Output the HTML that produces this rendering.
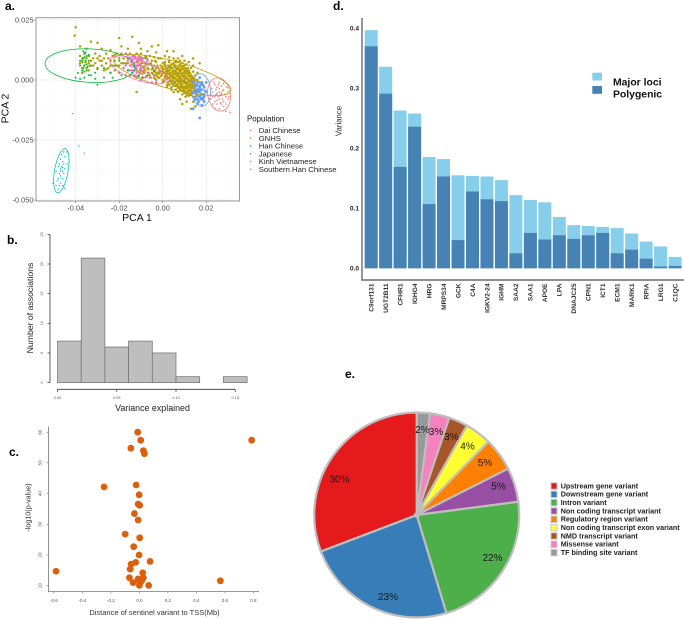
<!DOCTYPE html>
<html lang="en">
<head>
<meta charset="utf-8">
<title>Multi-panel genetics figure</title>
<style>
html,body{margin:0;padding:0;background:#fff;width:684px;height:620px;overflow:hidden}
svg{display:block;font-family:"Liberation Sans",sans-serif;filter:blur(0.3px)}
</style>
</head>
<body>
<svg id="figure" width="684" height="620" viewBox="0 0 684 620" xmlns="http://www.w3.org/2000/svg">
  <rect width="684" height="620" fill="#fff"/>
  <g id="panel-a"></g>
  <g id="panel-b"></g>
  <g id="panel-c"></g>
  <g id="panel-d"></g>
  <g id="panel-e"></g>

  <text x="5" y="10" font-size="12" font-weight="bold">a.</text>
  <text x="7" y="244" font-size="12" font-weight="bold">b.</text>
  <text x="9" y="456" font-size="12" font-weight="bold">c.</text>
  <text x="333" y="10" font-size="12" font-weight="bold">d.</text>
  <text x="345" y="378" font-size="12" font-weight="bold">e.</text>

  <g font-size="10" fill="#1a1a1a" text-anchor="middle">
    <text x="339.5" y="482.5">30%</text>
    <text x="388" y="600">23%</text>
    <text x="492.5" y="561">22%</text>
    <text x="498.5" y="489.5">5%</text>
    <text x="485" y="466">5%</text>
    <text x="467.5" y="449.5">4%</text>
    <text x="451.5" y="440">3%</text>
    <text x="436" y="435">3%</text>
    <text x="422.5" y="433">2%</text>
  </g>
</svg>
<script>
const NS = 'http://www.w3.org/2000/svg';
function el(tag, attrs, parent, txt) {
  const e = document.createElementNS(NS, tag);
  for (const k in attrs) e.setAttribute(k, attrs[k]);
  if (txt !== undefined) e.textContent = txt;
  parent.appendChild(e);
  return e;
}

/* ---------- Panel a data (PC values x 1e-3) ---------- */
const pcaXTicks = [-0.04, -0.02, 0, 0.02];
const pcaYTicks = [0.025, 0, -0.025, -0.05];
const pcaXTickLabels = ['-0.04', '-0.02', '0.00', '0.02'];
const pcaYTickLabels = ['0.025', '0.000', '-0.025', '-0.050'];
const populations = ['Dai Chinese', 'GNHS', 'Han Chinese', 'Japanese', 'Kinh Vietnamese', 'Southern Han Chinese'];
const daiPoints = [[26,-5],[25,-3],[27,-6],[24,-7],[28,-4],[26,-8],[23,-5],[29,-7],[25,-10],[27,-10],[24,-2],[26,-1],[28,-1.5],[30,-5],[30,-8],[22,-8],[23,-10],[25,-5.5],[26.5,-6.5],[27.5,-4.5],[26,-3.5],[24.5,-4],[29,-10],[28,-11],[26,-12],[24,-12],[22,-6],[23.5,-1],[27,-2.5],[25.5,-7],[31,-13.5],[29,-13],[26,-5],[27,-5.5],[28.5,-6],[24,-9],[25,-8.5],[27.5,-8],[29.5,-3],[22.5,-3.5],[26.5,-9.5],[28,-9],[23,-7],[30.5,-7],[25.5,-2],[24.5,-6]];
const gnhsPoints = [[-40,22],[-40.5,18.5],[-20,17.5],[-14,18],[-11,15.5],[-5,14],[-2,14.5],[-33,16],[-30,15.5],[-38,14],[-28,13],[-24,12.5],[-19,14],[-16,13],[-10,13],[-7,12],[-3,11.5],[2,12],[5,12],[9,10],[14,9],[17,7],[-12,-5],[-35,13],
[-38,10],[-37,8],[-36,11],[-35,9],[-34,7],[-36,6],[-37,5],[-35,5],[-34,10],[-33,8],[-38,7],[-36.5,9],[-35.5,7.5],[-34,4],[-37,3],[-33,6],[-32,9],[-31,7],[-31,11],[-30,5],[-29,8],[-29,10],[-28,6],[-27,9],[-27,4],[-26,7],[-26,11],[-25,5],[-25,9],[-24,8],[-24,3],[-23,10],[-23,6],[-22,8],[-22,4],[-21,11],[-21,6],[-20,9],[-20,3],[-19,7],[-19,11],[-18,5],[-18,9],[-17,2],[-17,7],[-17,11],[-16,4],[-16,9],[-15,6],[-15,11],[-15,2],[-14,8],[-14,4],[-13,10],[-13,6],[-13,1.5],[-12,8],[-12,4],[-12,11],[-11,6],[-11,2],[-11,9],[-10,4],[-10,7],[-10,11],[-9.5,1],[-9,5.5],[-9,9],[-8.5,3],[-8,7],[-8,10],[-7.5,1.5],[-7,5],[-7,8.5],[-6.5,3],[-6,6.5],[-6,10],[-5.5,1],[-5,4.5],[-5,8],[-4.5,2.5],[-4,6],[-4,9.5],[-3.5,0.5],[-3.5,4],[-3,7.5],[-2.5,1.5],[-2,9],[-1,9],[1,10],[3,9.5],[5,9],[7,9],[10,8],[12,7.5],[14,6],[16,3],[15,-7],[14,-9],[15,-11],[13,-12],[11,-9],[8,-8],[5,-5],[2,-3],[0,-1],[-3,-1],[9,-10],[17,-1],[6,8],[8,8],
[-12.5,5],[-11.5,7.5],[-10.5,3],[-9.5,8],[-8.5,5],[-7.5,9.5],[-6.5,4.5],[-5.5,7],[-4.5,5],[-3.5,8],[-2.5,6],[-9,3.5],[-8,4],[-7,6.5],[-6,2],[-5,3],[-4,4],[-3,3],[-2,1],[-10,9.5],[-12,1],[-14,6.5],[-16,7],[-18,7],[-20,6],[-22,10.5],[-24,6],[-26,4.5],[-28,8],[-30,9],[-32,6],
[0,7],[3,7.5],[5,7],[7,7.5],[9,7],[-1,6],[1,6.5],[2.5,6],[4,6.5],[6,6],[8,6.5],[10,6],[-2,5],[0,5.5],[1.5,5],[3,5.5],[4.5,5],[5.5,5.5],[7,5],[8.5,5.5],[10,5],[11.5,5],[-1.5,4],[0.5,4.5],[2,4],[3.5,4.5],[5,4],[6.5,4.5],[7.5,4],[9,4.5],[10.5,4],[12,4],[-2.5,3],[-1,3.5],[1,3],[2.5,3.5],[4,3],[5.5,3.5],[6.5,3],[8,3.5],[9.5,3],[11,3.5],[12.5,3],[-3,2],[-0.5,2.5],[1.5,2],[3,2.5],[4.5,2],[6,2.5],[7,2],[8.5,2.5],[10,2],[11.5,2.5],[13,2],[-1.5,1],[1,1.5],[2.5,1],[4,1.5],[5.5,1],[7,1.5],[8,1],[9.5,1.5],[11,1],[12.5,1.5],[14,1],[0,0],[2,0.5],[3.5,0],[5,0.5],[6.5,0],[7.5,0.5],[9,0],[10.5,0.5],[12,0],[13.5,0.5],[15,0],[2.5,-1],[4,-0.5],[5.5,-1],[7,-0.5],[8.5,-1],[9.5,-0.5],[11,-1],[12.5,-0.5],[14,-1],[3,-2],[5,-1.5],[6.5,-2],[8,-1.5],[9,-2],[10.5,-1.5],[12,-2],[13.5,-1.5],[15,-2],[4,-3],[6,-2.5],[7.5,-3],[9,-2.5],[10,-3],[11.5,-2.5],[13,-3],[14.5,-2.5],[6,-4],[8,-3.5],[9.5,-4],[11,-3.5],[12.5,-4],[14,-3.5],[7,-5],[9,-4.5],[10.5,-5],[12,-4.5],[13.5,-5],[15,-4.5],[9,-6],[11,-5.5],[12.5,-6],[14,-5.5],[10.5,-7],[12,-6.5],[14,-7],[3,8],[6,7.5],[11,6.5],[13,5],[14,3.5],[15,2],[16,0],[4,-4],[2,-2],[0.5,-0.5],[1,7.5],[-3,5],[-2,3],[-4,1],
[1.2,5.9],[3.7,6.1],[5.2,6.3],[7.3,5.9],[9.2,5.8],[-0.5,4.9],[2.2,4.8],[3.9,5.1],[6.2,4.9],[7.8,4.7],[9.6,4.8],[10.9,4.7],[0,3.8],[1.6,3.7],[3,3.9],[4.6,3.7],[6,3.8],[8.4,3.9],[10,3.7],[11.6,3.6],[-1.8,2.6],[0.3,2.9],[2,2.7],[3.6,2.9],[5.2,2.7],[7.6,2.8],[9,2.7],[10.6,2.9],[12,2.7],[-0.6,1.7],[1.9,1.6],[3.4,1.8],[4.9,1.7],[6.4,1.9],[7.6,1.6],[9,1.7],[10.4,1.8],[11.9,1.7],[13.4,1.6],[1,0.7],[3,0.8],[4.4,0.9],[6,0.7],[8.4,0.7],[9.9,0.8],[11.4,0.6],[12.9,0.7],[14.4,0.6],[3.2,-0.4],[4.8,-0.3],[6.2,-0.4],[7.8,-0.3],[9,-0.4],[10.2,-0.3],[11.8,-0.4],[13.2,-0.3],[14.6,-0.4],[4,-1.4],[5.8,-1.3],[7.4,-1.4],[9.9,-1.2],[11.4,-1.3],[12.8,-1.4],[14.4,-1.3],[5,-2.4],[6.8,-2.3],[8.4,-2.4],[9.6,-3.2],[10.8,-2.4],[12.4,-2.3],[13.8,-2.4],[7,-3.3],[8.6,-3.2],[10.4,-3.3],[11.8,-3.2],[13.4,-3.3],[8,-4.3],[10,-4.4],[11.4,-4.3],[12.8,-4.4],[14.4,-4.2],[10,-5.4],[11.8,-5.3],[13.2,-5.2],[11.2,-6.4],[13,-6.3]];
const hanPoints = [[-36,11],[-37,9],[-35.5,8],[-36,6],[-37,7.5],[-35,10],[-36.5,5],[-35,6.5],[-34,8],[-34.5,5.5],[-38,8],[-36,9.5],[-35.5,11.5],[-37,4],[-34,10.5],[-36,3.5],[-33.5,6],[-38,6],[-35,4],[-36.5,12],[-40,1],[-39,3],[-38,0.5],[-36,1],[-33,2],[-31,3],[-30,-2],[-31,0.5],[-27,1],[-27,5],[-24,3],[-23,1],[-22,6],[-19,2],[-18,5],[-16,4],[-15,9],[-14,3],[-13,6],[-11,1.5],[-10,5],[-8,9],[-7,2],[-5,6],[-4,3.5],[-34,2],[-30,4.5],[-20,8],[-9,1]];
const japanesePoints = [[-47,-37],[-46,-34],[-47.5,-39],[-46.5,-36],[-48,-41],[-45,-32],[-45.5,-35],[-47,-33],[-46,-38],[-48.5,-42],[-49,-38],[-47,-43],[-45,-37],[-44,-35],[-46,-41],[-47.5,-44],[-45.5,-30],[-46.5,-31],[-44,-30],[-48,-36],[-47,-40],[-46,-44],[-49,-44],[-50.5,-43],[-48,-45.5],[-45,-45],[-43,-34.5],[-47.5,-35],[-46,-36.5],[-47,-38],[-45.5,-39],[-41.5,-14],[-38.5,-27.5],[-36,-30.5]];
const kinhPoints = [[17,-3],[16,-5],[18,-4],[17,-7],[15,-3],[19,-6],[16,-1],[18,-1],[17,-5],[15.5,-6],[19,-3],[17.5,-8],[16,-8],[18.5,-8],[15,-8],[20,-5],[17,1],[19,-9],[14,-5],[16.5,-2.5],[18,-6],[17,-4],[15.5,-4],[16,-6.5],[17,-15.8],[14,-12],[16,-10],[18,-10.5],[20,-1],[14.5,-1],[18.5,-2],[19.5,-4.5],[16.5,-4],[17.5,-6],[15,-5],[18,-7.5],[16.5,-9],[19,-7],[17.5,-2],[15.5,-2]];
const southernPoints = [[-13,7],[-12,5],[-11,8],[-14,4],[-10,6],[-13,9],[-15,6],[-12,3],[-11,10],[-9,4],[-10,8.5],[-8,6],[-14,10],[-16,8],[-7,3],[-9,9],[-12,7.5],[-13.5,5.5],[-11,3.5],[-15,9],[-17,6],[-6,1],[-5,-1],[-4,2],[-8,1],[-10,0],[-11,6.5],[-12.5,9.5],[-14.5,7.5],[-16,10.5],[-9.5,2.5],[-7,8],[-3,0],[-13,2],[-17,11],[-18,5],[-12,6],[-10.5,4.5],[-13,4],[-11.5,9],[-14,8.5],[-9,7],[-12,1.5],[-15,4]];
/* ellipse centre and semi-axes in PC units x 1e-3, tilt in degrees */
const ellipseCenterX = [25.9,4.4,-33.4,-46.6,17.6,-11.2];
const ellipseCenterY = [-6,2.1,6,-37.8,-4.2,4.2];
const ellipseSemiMajor = [7.7,27.9,20.7,10.3,7.5,13.8];
const ellipseSemiMinor = [5.2,6.4,7.7,3.1,4.4,4.6];
const ellipseTilt = [80,15,3,-80,85,20];

/* ---------- Panel b data ---------- */
const histBinStart = [0, 0.02, 0.04, 0.06, 0.08, 0.10, 0.12, 0.14];
const histCounts = [7, 21, 6, 7, 5, 1, 0, 1];
const histBinWidth = 0.02;
const histXTicks = [0, 0.05, 0.10, 0.15];
const histXTickLabels = ['0.00', '0.05', '0.10', '0.15'];
const histYTicks = [0, 5, 10, 15, 20, 25];

/* ---------- Panel c data ---------- */
const tssDistance = [-0.012,0.009,0.788,-0.06,0.028,0.035,-0.023,-0.248,-0.002,-0.009,0.002,-0.035,-0.009,-0.1,0.002,-0.04,-0.002,0.075,-0.026,-0.058,-0.065,-0.585,0.023,-0.07,0.028,-0.009,0.016,0.568,-0.044,0.005,0,0.065];
const logPValue = [60,57.4,57.4,54.8,54,53,42.8,42.2,39.6,36.6,36.2,33.5,31.4,26.8,25.6,22.7,20,17.9,17.6,17,15.4,14.7,14.2,12.6,12.6,12.2,11.6,11.6,11,11,10.1,10.1];
const tssXTicks = [-0.6,-0.4,-0.2,0,0.2,0.4,0.6,0.8];
const tssXTickLabels = ['-0.6','-0.4','-0.2','0.0','0.2','0.4','0.6','0.8'];
const tssYTicks = [10,20,30,40,50,60];

/* ---------- Panel d data ---------- */
const genes = ['C9orf131','UGT2B11','CFHR1','IGHG4','HRG','MRPS34','GCK','C4A','IGKV2-24','IGHM','SAA2','SAA1','APOE','LPA','DNAJC25','CPN1','ICT1','ECM1','MARK1','RPIA','LRG1','C1QC'];
const totalVariance = [0.397,0.336,0.263,0.258,0.1855,0.182,0.155,0.154,0.153,0.147,0.122,0.114,0.11,0.0855,0.072,0.0705,0.069,0.067,0.058,0.0445,0.0365,0.019];
const polygenicVariance = [0.37,0.291,0.169,0.236,0.107,0.153,0.047,0.128,0.115,0.112,0.025,0.059,0.048,0.055,0.049,0.055,0.059,0.025,0.031,0.016,0.003,0.004];
const varianceTicks = [0,0.1,0.2,0.3,0.4];
const varianceTickLabels = ['0.0','0.1','0.2','0.3','0.4'];

/* ---------- Panel e data ---------- */
const pieCategories = ['TF binding site variant','Missense variant','NMD transcript variant','Non coding transcript exon variant','Regulatory region variant','Non coding transcript variant','Intron variant','Downstream gene variant','Upstream gene variant'];
const pieShares = [2.1,3.05,3,4.2,5.2,5.4,22.4,23.9,30.8];
const pieLegendOrder = ['Upstream gene variant','Downstream gene variant','Intron variant','Non coding transcript variant','Regulatory region variant','Non coding transcript exon variant','NMD transcript variant','Missense variant','TF binding site variant'];

/* ---------- Panel a ---------- */
(function () {
  const g = document.getElementById('panel-a');
  const sx = v => 162.7 + v * 2175;
  const sy = v => 80 - v * 2400;
  const border = el('rect', {x:36, y:17.7, width:203.5, height:183.3, fill:'#fff', stroke:'none'}, g);
  
  
  [-0.05,-0.03,-0.01,0.01,0.03].forEach(v => {
    const l = el('line', {x1:sx(v), x2:sx(v), y1:17.7, y2:201, stroke:'#ededed', 'stroke-width':0.6, 'stroke-dasharray':'1 1'}, g);
    
    
  });
  [0.0125,-0.0125,-0.0375].forEach(v => {
    const l = el('line', {x1:36, x2:239.5, y1:sy(v), y2:sy(v), stroke:'#ededed', 'stroke-width':0.6, 'stroke-dasharray':'1 1'}, g);
    
    
  });
  pcaXTicks.forEach((v, i) => {
    const l = el('line', {x1:sx(v), x2:sx(v), y1:17.7, y2:201, stroke:'#dcdcdc', 'stroke-width':0.8, 'stroke-dasharray':'1.2 1'}, g);
    
    
    const t = el('line', {x1:sx(v), x2:sx(v), y1:201, y2:203, stroke:'#666', 'stroke-width':0.6}, g);
    
    
    const x = el('text', {x:sx(v), y:210.5, 'font-size':7.4, fill:'#4d4d4d', 'text-anchor':'middle'}, g, pcaXTickLabels[i]);
    
    
  });
  pcaYTicks.forEach((v, i) => {
    const l = el('line', {x1:36, x2:239.5, y1:sy(v), y2:sy(v), stroke:'#dcdcdc', 'stroke-width':0.8, 'stroke-dasharray':'1.2 1'}, g);
    
    
    const t = el('line', {x1:34, x2:36, y1:sy(v), y2:sy(v), stroke:'#666', 'stroke-width':0.6}, g);
    
    
    const y = el('text', {x:33.5, y:sy(v) + 2.6, 'font-size':7.4, fill:'#4d4d4d', 'text-anchor':'end'}, g, pcaYTickLabels[i]);
    
    
  });

  const colors = ['#F8766D','#B79F00','#00BA38','#00BFC4','#619CFF','#F564E3'];
  const sets = [daiPoints, gnhsPoints, hanPoints, japanesePoints, kinhPoints, southernPoints];
  const radii = [0.8, 1.25, 1.0, 0.7, 1.4, 1.2];
  sets.forEach((pts, i) => {
    const pg = el('g', {fill:colors[i]}, g);
    
    
    pts.forEach(p => {
      const c = el('circle', {cx:sx(p[0] / 1000), cy:sy(p[1] / 1000), r:radii[i]}, pg);
      
      
    });
  });
  populations.forEach((name, i) => {
    const cx = sx(ellipseCenterX[i] / 1000), cy = sy(ellipseCenterY[i] / 1000);
    const e = el('ellipse', {
      cx, cy,
      rx: ellipseSemiMajor[i] * 2.175,
      ry: ellipseSemiMinor[i] * 2.175,
      fill:'none', stroke:colors[i], 'stroke-width':0.75,
      transform:`rotate(${ellipseTilt[i]} ${cx} ${cy})`
    }, g);
    
    
  });
  const frame = el('rect', {x:36, y:17.7, width:203.5, height:183.3, fill:'none', stroke:'#9a9a9a', 'stroke-width':1}, g);
  
  
  const xt = el('text', {x:137, y:221, 'font-size':10.5, fill:'#111', 'text-anchor':'middle'}, g, 'PCA 1');
  
  
  const yt = el('text', {x:0, y:0, 'font-size':10.5, fill:'#111', 'text-anchor':'middle', transform:'translate(8.5 108.5) rotate(-90)'}, g, 'PCA 2');
  
  
  const lt = el('text', {x:247, y:121.5, 'font-size':7.9, fill:'#111'}, g, 'Population');
  
  
  populations.forEach((name, i) => {
    const yy = 130.3 + i * 7.8;
    const d = el('circle', {cx:250.7, cy:yy, r:0.8, fill:colors[i]}, g);
    
    
    const tx = el('text', {x:258.7, y:yy + 2.7, 'font-size':7.7, fill:'#222'}, g, name);
    
    
  });
})();

/* ---------- Panel b ---------- */
(function () {
  const g = document.getElementById('panel-b');
  const sx = v => 57.5 + v * 1185;
  const sy = v => 382.6 - v * 5.93;
  histCounts.forEach((c, i) => {
    const x0 = sx(histBinStart[i]);
    const w = histBinWidth * 1185;
    const r = el('rect', {x:x0, y:sy(c), width:w, height:sy(0) - sy(c), fill:'#bebebe', stroke:c ? '#6e6e6e' : '#c8c8c8', 'stroke-width':c ? 0.7 : 1}, g);
    
    
  });
  const ya = el('line', {x1:50, x2:50, y1:sy(0), y2:sy(25), stroke:'#333', 'stroke-width':0.8}, g);
  
  
  histYTicks.forEach(v => {
    const t = el('line', {x1:47.5, x2:50, y1:sy(v), y2:sy(v), stroke:'#333', 'stroke-width':0.7}, g);
    
    
    const tx = el('text', {x:0, y:0, 'font-size':3.8, fill:'#555', 'text-anchor':'middle', transform:`translate(43 ${sy(v)}) rotate(-90)`}, g, String(v));
    
    
  });
  const xa = el('line', {x1:sx(0), x2:sx(0.15), y1:389.3, y2:389.3, stroke:'#333', 'stroke-width':0.8}, g);
  
  
  histXTicks.forEach((v, i) => {
    const t = el('line', {x1:sx(v), x2:sx(v), y1:389.3, y2:392, stroke:'#333', 'stroke-width':0.7}, g);
    
    
    const tx = el('text', {x:sx(v), y:399, 'font-size':3.8, fill:'#555', 'text-anchor':'middle'}, g, histXTickLabels[i]);
    
    
  });
  const xt = el('text', {x:152.5, y:411, 'font-size':8.9, fill:'#222', 'text-anchor':'middle'}, g, 'Variance explained');
  
  
  const yt = el('text', {x:0, y:0, 'font-size':8.7, fill:'#222', 'text-anchor':'middle', transform:'translate(33 308) rotate(-90)'}, g, 'Number of associations');
  
  
})();

/* ---------- Panel c ---------- */
(function () {
  const g = document.getElementById('panel-c');
  const sx = v => 139.4 + v * 142.5;
  const sy = v => 585.7 - (v - 10) * 3.07;
  const ya = el('line', {x1:48.5, x2:48.5, y1:426.5, y2:592, stroke:'#777', 'stroke-width':0.8}, g);
  
  
  const xa = el('line', {x1:48.5, x2:259, y1:591.6, y2:591.6, stroke:'#777', 'stroke-width':0.8}, g);
  
  
  tssXTicks.forEach((v, i) => {
    const t = el('line', {x1:sx(v), x2:sx(v), y1:591.6, y2:593.5, stroke:'#777', 'stroke-width':0.6}, g);
    
    
    const tx = el('text', {x:sx(v), y:602, 'font-size':4.6, fill:'#555', 'text-anchor':'middle'}, g, tssXTickLabels[i]);
    
    
  });
  tssYTicks.forEach(v => {
    const t = el('line', {x1:46.5, x2:48.5, y1:sy(v), y2:sy(v), stroke:'#777', 'stroke-width':0.6}, g);
    
    
    const tx = el('text', {x:0, y:0, 'font-size':4.6, fill:'#555', 'text-anchor':'middle', transform:`translate(41.5 ${sy(v)}) rotate(-90)`}, g, String(v));
    
    
  });
  tssDistance.forEach((d, i) => {
    const c = el('circle', {cx:sx(d), cy:sy(logPValue[i]), r:3.4, fill:'#dc5f0c'}, g);
    
    
  });
  const xt = el('text', {x:154.5, y:615, 'font-size':7.5, fill:'#333', 'text-anchor':'middle'}, g, 'Distance of sentinel variant to TSS(Mb)');
  
  
  const yt = el('text', {x:0, y:0, 'font-size':7.2, fill:'#333', 'text-anchor':'middle', transform:'translate(30.5 507.5) rotate(-90)'}, g, '-log10(p-value)');
  
  
})();

/* ---------- Panel d ---------- */
(function () {
  const g = document.getElementById('panel-d');
  const sy = v => 268.3 - v * 600;
  const bx = i => 364.7 + i * 14.47;
  genes.forEach((name, i) => {
    const top = el('rect', {x:bx(i), y:sy(totalVariance[i]), width:13, height:sy(0) - sy(totalVariance[i]), fill:'#87ceeb'}, g);
    
    
    const low = el('rect', {x:bx(i), y:sy(polygenicVariance[i]), width:13, height:sy(0) - sy(polygenicVariance[i]), fill:'#4682b4'}, g);
    
    
    const t = el('text', {x:0, y:0, 'font-size':6.6, 'font-weight':'bold', fill:'#333', 'text-anchor':'end', transform:`translate(${bx(i) + 8.8} 283.5) rotate(-90)`}, g, name);
    
    
  });
  const ya = el('line', {x1:362, x2:362, y1:18, y2:280.5, stroke:'#6a6a6a', 'stroke-width':1.4}, g);
  
  
  const xa = el('line', {x1:361.3, x2:684, y1:280, y2:280, stroke:'#6a6a6a', 'stroke-width':1.4}, g);
  
  
  varianceTicks.forEach((v, i) => {
    const t = el('text', {x:359, y:sy(v) + 2.4, 'font-size':6.6, 'font-weight':'bold', fill:'#222', 'text-anchor':'end'}, g, varianceTickLabels[i]);
    
    
  });
  const yt = el('text', {x:0, y:0, 'font-size':7.8, fill:'#333', 'text-anchor':'middle', transform:'translate(341.5 121) rotate(-90)'}, g, 'Variance');
  
  
  const s1 = el('rect', {x:592.3, y:72.7, width:9.7, height:7.8, fill:'#87ceeb'}, g);
  
  
  const s2 = el('rect', {x:592.3, y:86, width:9.7, height:7.8, fill:'#4682b4'}, g);
  
  
  const l1 = el('text', {x:613, y:85.5, 'font-size':10.4, 'font-weight':'bold', fill:'#111'}, g, 'Major loci');
  
  
  const l2 = el('text', {x:613, y:97.5, 'font-size':10.4, 'font-weight':'bold', fill:'#111'}, g, 'Polygenic');
  
  
})();

/* ---------- Panel e ---------- */
(function () {
  const g = document.getElementById('panel-e');
  const cx = 416.7, cy = 515, r = 102.5;
  const pieColors = ['#999999','#f781bf','#a65628','#ffff33','#ff7f00','#984ea3','#4daf4a','#377eb8','#e41a1c'];
  const total = pieShares.reduce((a, b) => a + b, 0);
  let acc = 0;
  pieShares.forEach((s, i) => {
    const a0 = acc / total * 2 * Math.PI;
    acc += s;
    const a1 = acc / total * 2 * Math.PI;
    const x0 = cx + r * Math.sin(a0), y0 = cy - r * Math.cos(a0);
    const x1 = cx + r * Math.sin(a1), y1 = cy - r * Math.cos(a1);
    const large = a1 - a0 > Math.PI ? 1 : 0;
    const p = el('path', {d:`M${cx} ${cy}L${x0} ${y0}A${r} ${r} 0 ${large} 1 ${x1} ${y1}Z`, fill:pieColors[i], stroke:'#bebebe', 'stroke-width':2.2, 'stroke-linejoin':'miter'}, g);
    
    
  });
  const hub = el('circle', {cx, cy, r:3, fill:'#bebebe'}, g);
  
  
  pieLegendOrder.forEach((name, i) => {
    const y = 486 + i * 8.33;
    const idx = pieCategories.indexOf(name);
    const sw = el('rect', {x:551, y:y - 3.2, width:6, height:6.4, fill:pieColors[idx], stroke:'#c8c8c8', 'stroke-width':1}, g);
    
    
    const t = el('text', {x:560.7, y:y + 2.3, 'font-size':7.2, 'font-weight':'bold', fill:'#222'}, g, name);
    
    
  });
})();
</script>
</body>
</html>
